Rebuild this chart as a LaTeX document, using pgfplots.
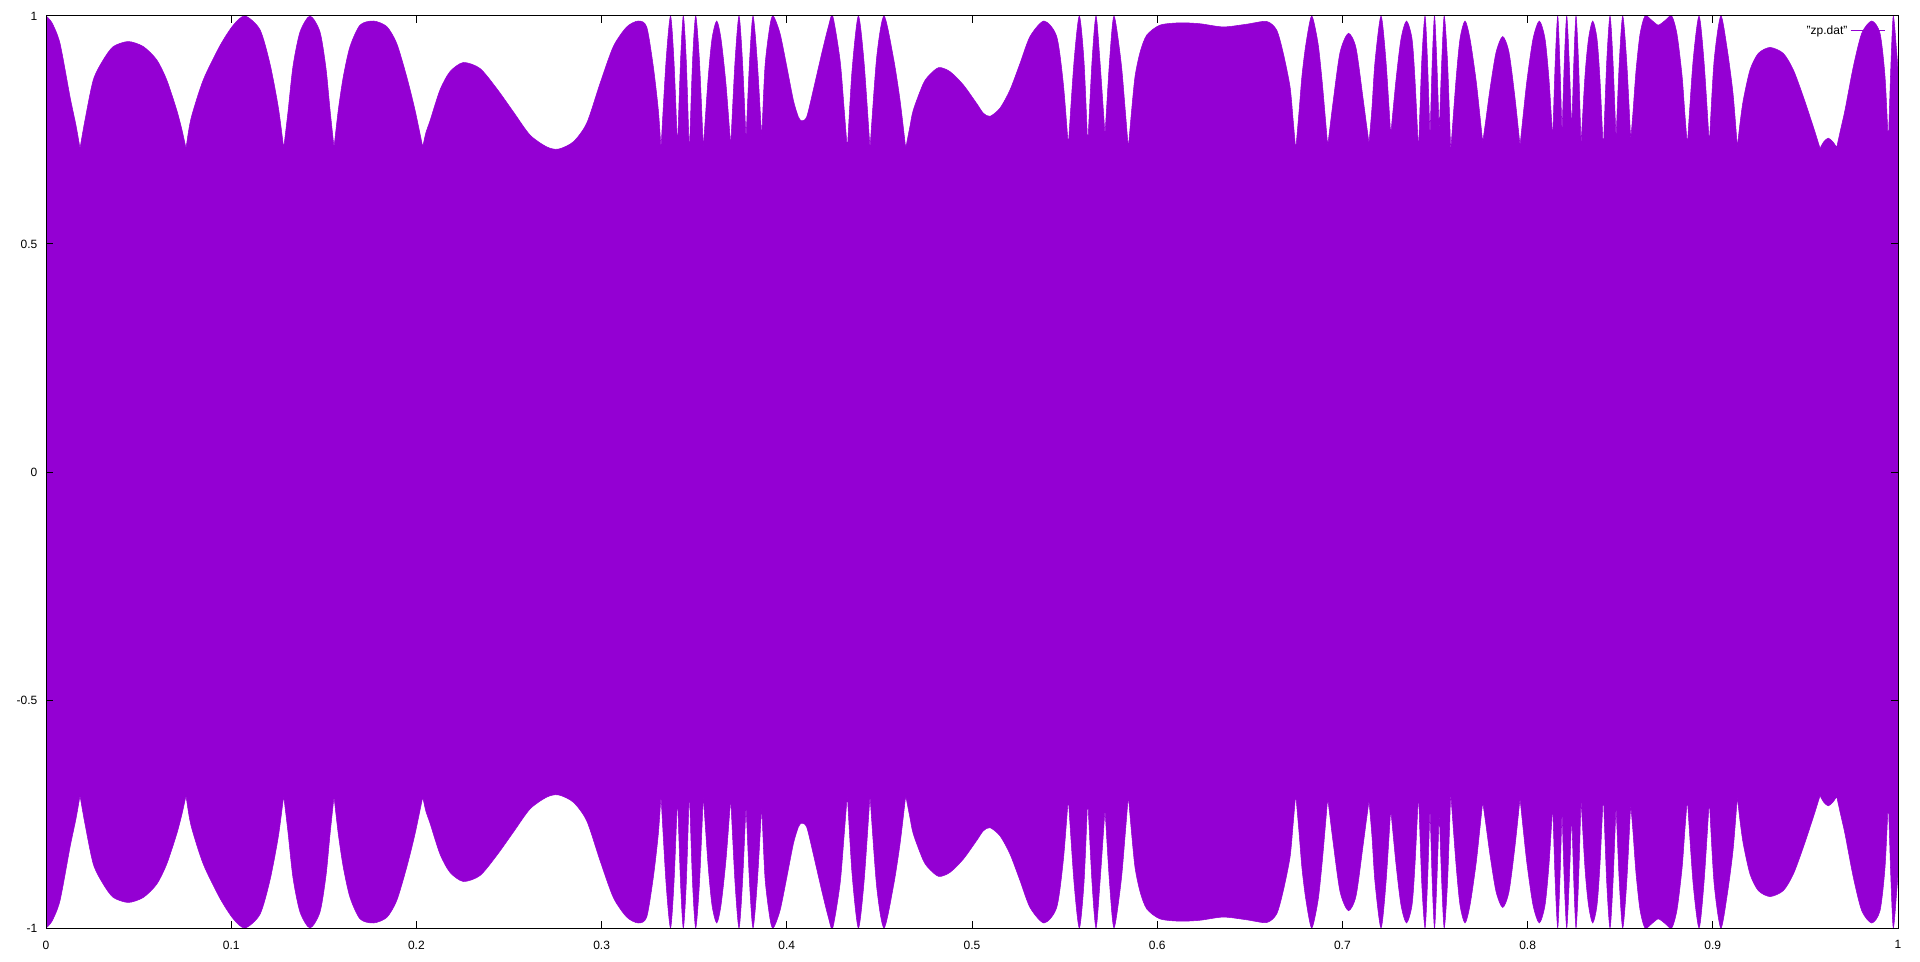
\documentclass[border=0pt]{standalone}
\usepackage{fontspec}
\setmainfont{Liberation Sans}
\usepackage{pgfplots}
\usepackage{pgfplotstable}
\pgfplotsset{compat=1.18}
\usepgfplotslibrary{fillbetween}
\definecolor{zp}{RGB}{148,0,211}
\pgfplotstableread{
x u l
0.00000 1.000 -1.000
0.00324 0.985 -0.985
0.00756 0.940 -0.940
0.01296 0.823 -0.823
0.01620 0.760 -0.760
0.01836 0.710 -0.710
0.01836 0.710 -0.710
0.02106 0.772 -0.772
0.02554 0.860 -0.860
0.03094 0.904 -0.904
0.03634 0.933 -0.933
0.04444 0.944 -0.944
0.05254 0.933 -0.933
0.05977 0.904 -0.904
0.06517 0.860 -0.860
0.07057 0.794 -0.794
0.07343 0.750 -0.750
0.07559 0.710 -0.710
0.07559 0.710 -0.710
0.07829 0.775 -0.775
0.08494 0.860 -0.860
0.09395 0.935 -0.935
0.10113 0.980 -0.980
0.10745 1.000 -1.000
0.11555 0.970 -0.970
0.12095 0.895 -0.895
0.12543 0.800 -0.800
0.12835 0.710 -0.710
0.12835 0.710 -0.710
0.13067 0.790 -0.790
0.13337 0.890 -0.890
0.13715 0.965 -0.965
0.14255 1.000 -1.000
0.14795 0.965 -0.965
0.15119 0.885 -0.885
0.15335 0.795 -0.795
0.15551 0.712 -0.712
0.15551 0.712 -0.712
0.15783 0.794 -0.794
0.16053 0.867 -0.867
0.16415 0.933 -0.933
0.16955 0.980 -0.980
0.17673 0.989 -0.989
0.18396 0.977 -0.977
0.18936 0.940 -0.940
0.19476 0.867 -0.867
0.19924 0.794 -0.794
0.20340 0.713 -0.713
0.20340 0.713 -0.713
0.20518 0.745 -0.745
0.20734 0.770 -0.770
0.21274 0.838 -0.838
0.21814 0.878 -0.878
0.22532 0.898 -0.898
0.23434 0.885 -0.885
0.24336 0.841 -0.841
0.25232 0.790 -0.790
0.26134 0.739 -0.739
0.27036 0.713 -0.713
0.27662 0.708 -0.708
0.28472 0.724 -0.724
0.29196 0.765 -0.765
0.29914 0.852 -0.852
0.30632 0.933 -0.933
0.31355 0.976 -0.976
0.31981 0.989 -0.989
0.32435 0.976 -0.976
0.32792 0.889 -0.889
0.33062 0.794 -0.794
0.33207 0.710 -0.710
0.33207 0.710 -0.710
0.33477 0.900 -0.900
0.33720 1.000 -1.000
0.33909 0.900 -0.900
0.34098 0.710 -0.710
0.34098 0.710 -0.710
0.34260 0.900 -0.900
0.34412 1.000 -1.000
0.34574 0.900 -0.900
0.34736 0.695 -0.695
0.34736 0.695 -0.695
0.34909 0.900 -0.900
0.35081 1.000 -1.000
0.35286 0.900 -0.900
0.35491 0.710 -0.710
0.35491 0.710 -0.710
0.35745 0.860 -0.860
0.35961 0.950 -0.950
0.36215 0.989 -0.989
0.36447 0.950 -0.950
0.36717 0.850 -0.850
0.36971 0.715 -0.715
0.36971 0.715 -0.715
0.37203 0.900 -0.900
0.37419 1.000 -1.000
0.37608 0.900 -0.900
0.37797 0.730 -0.730
0.37797 0.730 -0.730
0.37986 0.900 -0.900
0.38175 1.000 -1.000
0.38407 0.900 -0.900
0.38645 0.732 -0.732
0.38645 0.732 -0.732
0.38823 0.890 -0.890
0.39093 0.980 -0.980
0.39271 1.000 -1.000
0.39633 0.962 -0.962
0.39995 0.890 -0.890
0.40351 0.816 -0.816
0.40621 0.779 -0.779
0.40805 0.770 -0.770
0.41075 0.779 -0.779
0.41431 0.838 -0.838
0.41885 0.918 -0.918
0.42241 0.976 -0.976
0.42478 1.000 -1.000
0.42873 0.904 -0.904
0.43089 0.800 -0.800
0.43267 0.707 -0.707
0.43267 0.707 -0.707
0.43521 0.880 -0.880
0.43861 1.000 -1.000
0.44168 0.900 -0.900
0.44492 0.710 -0.710
0.44492 0.710 -0.710
0.44854 0.910 -0.910
0.45248 1.000 -1.000
0.45750 0.910 -0.910
0.46112 0.816 -0.816
0.46420 0.710 -0.710
0.46420 0.710 -0.710
0.46636 0.755 -0.755
0.46831 0.794 -0.794
0.47370 0.852 -0.852
0.47732 0.872 -0.872
0.48218 0.887 -0.887
0.48812 0.878 -0.878
0.49530 0.849 -0.849
0.50254 0.808 -0.808
0.50610 0.787 -0.787
0.50972 0.780 -0.780
0.51512 0.798 -0.798
0.52052 0.838 -0.838
0.52592 0.896 -0.896
0.53132 0.955 -0.955
0.53888 0.989 -0.989
0.54573 0.955 -0.955
0.54929 0.852 -0.852
0.55199 0.715 -0.715
0.55199 0.715 -0.715
0.55508 0.900 -0.900
0.55794 1.000 -1.000
0.56048 0.900 -0.900
0.56247 0.715 -0.715
0.56247 0.715 -0.715
0.56479 0.900 -0.900
0.56695 1.000 -1.000
0.56911 0.900 -0.900
0.57181 0.739 -0.739
0.57181 0.739 -0.739
0.57424 0.900 -0.900
0.57667 1.000 -1.000
0.58045 0.900 -0.900
0.58261 0.800 -0.800
0.58439 0.710 -0.710
0.58439 0.710 -0.710
0.58612 0.790 -0.790
0.58801 0.867 -0.867
0.59071 0.920 -0.920
0.59433 0.958 -0.958
0.60151 0.980 -0.980
0.61231 0.985 -0.985
0.62311 0.983 -0.983
0.63569 0.976 -0.976
0.64833 0.982 -0.982
0.65912 0.988 -0.988
0.66452 0.969 -0.969
0.66809 0.918 -0.918
0.67171 0.845 -0.845
0.67333 0.775 -0.775
0.67478 0.706 -0.706
0.67478 0.706 -0.706
0.67657 0.790 -0.790
0.67819 0.870 -0.870
0.68035 0.940 -0.940
0.68342 1.000 -1.000
0.68683 0.940 -0.940
0.68898 0.860 -0.860
0.69060 0.785 -0.785
0.69206 0.715 -0.715
0.69206 0.715 -0.715
0.69492 0.810 -0.810
0.69870 0.920 -0.920
0.70318 0.962 -0.962
0.70734 0.930 -0.930
0.71112 0.820 -0.820
0.71274 0.770 -0.770
0.71436 0.721 -0.721
0.71436 0.721 -0.721
0.71598 0.800 -0.800
0.71760 0.900 -0.900
0.72084 1.000 -1.000
0.72354 0.900 -0.900
0.72608 0.739 -0.739
0.72608 0.739 -0.739
0.72894 0.860 -0.860
0.73164 0.950 -0.950
0.73461 0.989 -0.989
0.73758 0.950 -0.950
0.73920 0.860 -0.860
0.74109 0.702 -0.702
0.74109 0.702 -0.702
0.74282 0.900 -0.900
0.74460 1.000 -1.000
0.74595 0.900 -0.900
0.74730 0.732 -0.732
0.74730 0.732 -0.732
0.74849 0.900 -0.900
0.74973 1.000 -1.000
0.75097 0.900 -0.900
0.75227 0.744 -0.744
0.75227 0.744 -0.744
0.75362 0.900 -0.900
0.75497 1.000 -1.000
0.75675 0.900 -0.900
0.75848 0.704 -0.704
0.75848 0.704 -0.704
0.76134 0.860 -0.860
0.76350 0.950 -0.950
0.76620 0.989 -0.989
0.76890 0.950 -0.950
0.77214 0.860 -0.860
0.77403 0.790 -0.790
0.77576 0.723 -0.723
0.77576 0.723 -0.723
0.77754 0.775 -0.775
0.77970 0.840 -0.840
0.78294 0.920 -0.920
0.78656 0.955 -0.955
0.78996 0.920 -0.920
0.79320 0.820 -0.820
0.79590 0.716 -0.716
0.79590 0.716 -0.716
0.79779 0.790 -0.790
0.79968 0.860 -0.860
0.80292 0.950 -0.950
0.80632 0.989 -0.989
0.80940 0.950 -0.950
0.81156 0.860 -0.860
0.81355 0.730 -0.730
0.81355 0.730 -0.730
0.81490 0.900 -0.900
0.81625 1.000 -1.000
0.81739 0.900 -0.900
0.81857 0.740 -0.740
0.81857 0.740 -0.740
0.81981 0.900 -0.900
0.82111 1.000 -1.000
0.82246 0.900 -0.900
0.82381 0.746 -0.746
0.82381 0.746 -0.746
0.82495 0.900 -0.900
0.82613 1.000 -1.000
0.82748 0.900 -0.900
0.82883 0.717 -0.717
0.82883 0.717 -0.717
0.83099 0.870 -0.870
0.83288 0.950 -0.950
0.83515 0.989 -0.989
0.83747 0.950 -0.950
0.83909 0.860 -0.860
0.84087 0.704 -0.704
0.84087 0.704 -0.704
0.84271 0.900 -0.900
0.84449 1.000 -1.000
0.84611 0.900 -0.900
0.84773 0.730 -0.730
0.84773 0.730 -0.730
0.84951 0.900 -0.900
0.85135 1.000 -1.000
0.85351 0.900 -0.900
0.85567 0.728 -0.728
0.85567 0.728 -0.728
0.85691 0.790 -0.790
0.85853 0.880 -0.880
0.86069 0.960 -0.960
0.86339 1.000 -1.000
0.86717 0.990 -0.990
0.87057 0.980 -0.980
0.87419 0.990 -0.990
0.87780 1.000 -1.000
0.88067 0.960 -0.960
0.88337 0.870 -0.870
0.88483 0.790 -0.790
0.88623 0.716 -0.716
0.88623 0.716 -0.716
0.88931 0.900 -0.900
0.89255 1.000 -1.000
0.89525 0.900 -0.900
0.89811 0.719 -0.719
0.89811 0.719 -0.719
0.90065 0.900 -0.900
0.90427 1.000 -1.000
0.90767 0.930 -0.930
0.91091 0.830 -0.830
0.91323 0.713 -0.713
0.91323 0.713 -0.713
0.91469 0.765 -0.765
0.91647 0.816 -0.816
0.92009 0.882 -0.882
0.92457 0.918 -0.918
0.93089 0.931 -0.931
0.93807 0.918 -0.918
0.94347 0.882 -0.882
0.94887 0.823 -0.823
0.95427 0.757 -0.757
0.95788 0.710 -0.710
0.95788 0.710 -0.710
0.96004 0.725 -0.725
0.96236 0.732 -0.732
0.96463 0.725 -0.725
0.96690 0.712 -0.712
0.96690 0.712 -0.712
0.96895 0.750 -0.750
0.97138 0.794 -0.794
0.97587 0.889 -0.889
0.98040 0.962 -0.962
0.98580 0.989 -0.989
0.99028 0.962 -0.962
0.99298 0.867 -0.867
0.99476 0.720 -0.720
0.99476 0.720 -0.720
0.99622 0.900 -0.900
0.99746 1.000 -1.000
0.99930 0.920 -0.920
1.00000 0.880 -0.880
}\zpdata
\begin{document}
\begin{tikzpicture}
\begin{axis}[
  scale only axis,
  width=1389pt, height=684pt,
  xmin=0, xmax=1, ymin=-1, ymax=1,
  xtick={0,0.1,0.2,0.3,0.4,0.5,0.6,0.7,0.8,0.9,1},
  xticklabels={0,0.1,0.2,0.3,0.4,0.5,0.6,0.7,0.8,0.9,1},
  ytick={-1,-0.5,0,0.5,1},
  yticklabels={-1,-0.5,0,0.5,1},
  tick pos=both, tick align=inside,
  major tick length=5pt,
  axis line style={line width=0.75pt, black},
  every tick/.style={line width=0.75pt, black},
  tick label style={font=\fontsize{9}{10}\selectfont},
  /pgf/number format/assume math mode=true,
  xticklabel style={yshift=-6pt},
  yticklabel style={xshift=-3pt},
  axis on top,
  legend style={draw=none, fill=none, at={(rel axis cs:1,1)}, anchor=north east,
    xshift=-8pt, yshift=-4pt, font=\fontsize{9}{10}\selectfont, inner sep=1pt},
  legend plot pos=right,
  legend cell align=right,
  legend image code/.code={\draw[#1] (0pt,0pt) -- (26pt,0pt);},
]
\addlegendimage{zp, line width=0.75pt}
\addlegendentry{"zp.dat"}
\addplot[name path=U, draw=zp, line width=0.4pt, smooth, tension=0.45, forget plot] table[x=x, y=u] {\zpdata};
\addplot[name path=L, draw=zp, line width=0.4pt, smooth, tension=0.45, forget plot] table[x=x, y=l] {\zpdata};
\addplot[fill=zp, draw=none, forget plot] fill between[of=U and L];
\end{axis}
\path (current axis.south west) ++(-34.5pt,-24.75pt) coordinate (bbl);
\path (current axis.north east) ++(16.5pt,12pt) coordinate (bbr);
\path (bbl) rectangle (bbr);
\end{tikzpicture}
\end{document}
